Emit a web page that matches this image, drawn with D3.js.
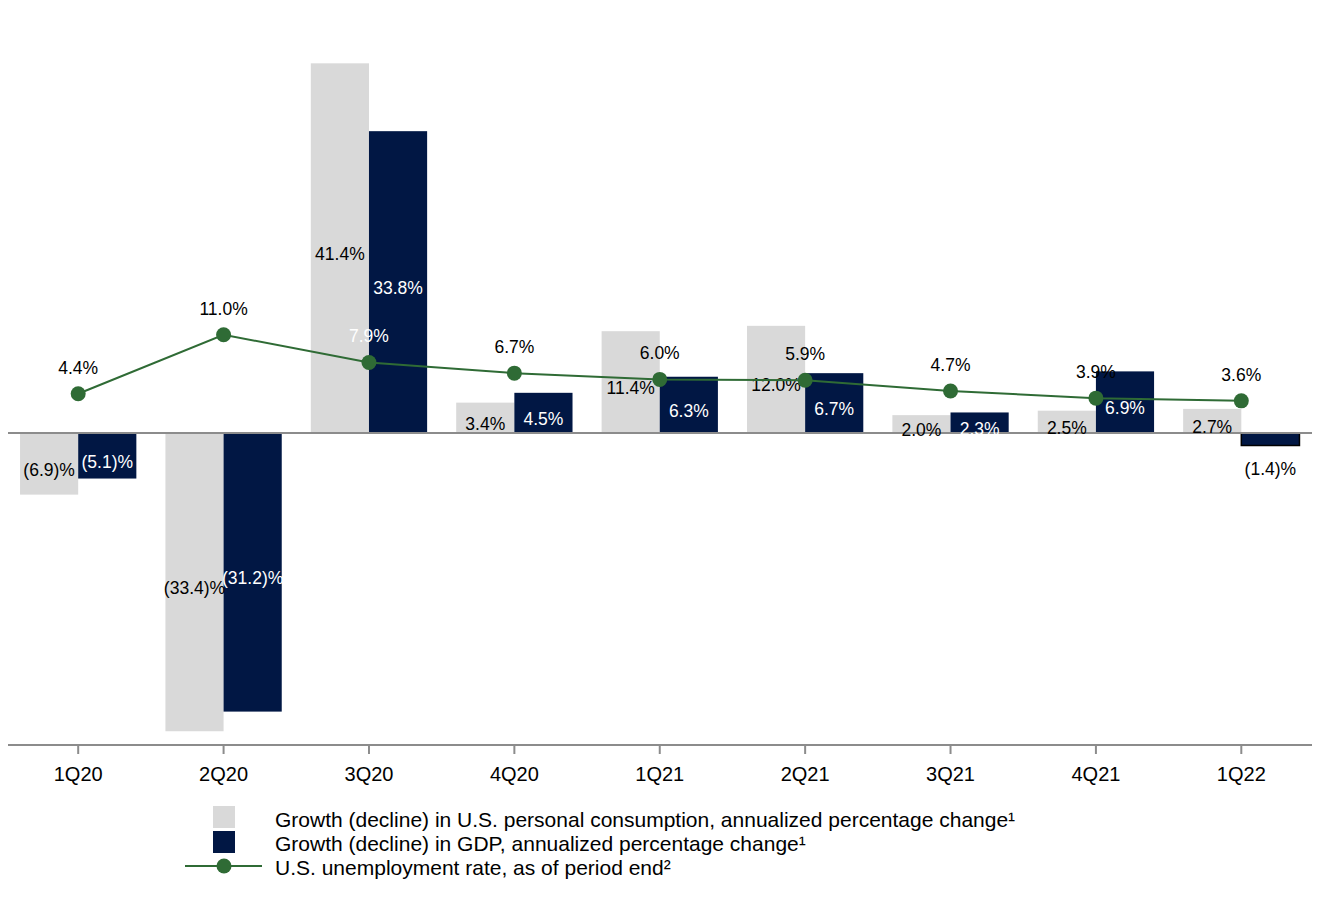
<!DOCTYPE html>
<html><head><meta charset="utf-8">
<script src="https://cdn.jsdelivr.net/npm/d3@7"></script>
<style>body{margin:0;background:#fff}svg{display:block;font-family:"Liberation Sans",Arial,sans-serif}</style>
</head><body><svg id="c" width="1320" height="900"></svg>
<script>
const categories = ["1Q20","2Q20","3Q20","4Q20","1Q21","2Q21","3Q21","4Q21","1Q22"];
const consumption = [-6.9,-33.4,41.4,3.4,11.4,12.0,2.0,2.5,2.7];
const gdp = [-5.1,-31.2,33.8,4.5,6.3,6.7,2.3,6.9,-1.4];
const unemployment = [4.4,11.0,7.9,6.7,6.0,5.9,4.7,3.9,3.6];
const legendLabels = ["Growth (decline) in U.S. personal consumption, annualized percentage change¹","Growth (decline) in GDP, annualized percentage change¹","U.S. unemployment rate, as of period end²"];

const C_GRAY="#d9d9d9", C_NAVY="#011744", C_GREEN="#2f6b35", C_AXIS="#8c8c8c";
const svg=d3.select("#c");
const x=d3.scaleBand().domain(categories).range([5.5,1314]).padding(0);
const bw=x.bandwidth()*0.4;
const y=d3.scaleLinear().domain([-34.94,48.49]).range([745,0]);
const fmt=v=>v<0?`(${Math.abs(v).toFixed(1)})%`:`${v.toFixed(1)}%`;
const cx=d=>x(d)+x.bandwidth()/2;
const LF=17.5;

// bars
const g=svg.append("g");
categories.forEach((c,i)=>{
  const v1=consumption[i], v2=gdp[i];
  g.append("rect").attr("x",cx(c)-bw).attr("width",bw)
    .attr("y",y(Math.max(0,v1))).attr("height",Math.abs(y(v1)-y(0))).attr("fill",C_GRAY);
  const r=g.append("rect").attr("x",cx(c)).attr("width",bw)
    .attr("y",y(Math.max(0,v2))).attr("height",Math.abs(y(v2)-y(0))).attr("fill",C_NAVY);
  if(i===8) r.attr("stroke","#000").attr("stroke-width",1.5);
});

// zero line and axis
svg.append("line").attr("x1",8).attr("x2",1312).attr("y1",y(0)).attr("y2",y(0)).attr("stroke",C_AXIS).attr("stroke-width",2);
const ax=svg.append("g").attr("transform","translate(0,745)").call(d3.axisBottom(x).tickSize(9).tickPadding(13));
ax.select(".domain").remove();
ax.append("line").attr("x1",8).attr("x2",1312).attr("stroke",C_AXIS).attr("stroke-width",2);
ax.selectAll(".tick line").attr("stroke",C_AXIS).attr("stroke-width",2);
ax.selectAll(".tick text").attr("font-size",20).attr("fill","#000").attr("font-family","Liberation Sans, Arial, sans-serif");

// bar labels
categories.forEach((c,i)=>{
  const v1=consumption[i], v2=gdp[i];
  svg.append("text").attr("x",cx(c)-bw/2).attr("y",(y(v1)+y(0))/2+6).attr("text-anchor","middle")
    .attr("dominant-baseline","central").attr("font-size",LF).attr("fill","#000").text(fmt(v1));
  if(i===8){
    svg.append("text").attr("x",cx(c)+bw/2).attr("y",y(v2)+24).attr("text-anchor","middle")
      .attr("dominant-baseline","central").attr("font-size",LF).attr("fill","#000").text(fmt(v2));
  } else {
    svg.append("text").attr("x",cx(c)+bw/2).attr("y",(y(v2)+y(0))/2+6).attr("text-anchor","middle")
      .attr("dominant-baseline","central").attr("font-size",LF).attr("fill","#fff").text(fmt(v2));
  }
});

// line
const line=d3.line().x((d,i)=>cx(categories[i])).y(d=>y(d));
svg.append("path").datum(unemployment).attr("d",line).attr("fill","none").attr("stroke",C_GREEN).attr("stroke-width",2);
svg.selectAll(".dot").data(unemployment).join("circle").attr("cx",(d,i)=>cx(categories[i])).attr("cy",d=>y(d)).attr("r",7.5).attr("fill",C_GREEN);
svg.selectAll(".ul").data(unemployment).join("text").attr("x",(d,i)=>cx(categories[i])).attr("y",d=>y(d)-26)
  .attr("text-anchor","middle").attr("dominant-baseline","central").attr("font-size",LF)
  .attr("fill",(d,i)=>i===2?"#fff":"#000").text(d=>fmt(d));

// legend
const lg=svg.append("g");
lg.append("rect").attr("x",213).attr("y",806).attr("width",22).attr("height",22).attr("fill",C_GRAY);
lg.append("rect").attr("x",213).attr("y",831).attr("width",22).attr("height",22).attr("fill",C_NAVY);
lg.append("line").attr("x1",185).attr("x2",262).attr("y1",866).attr("y2",866).attr("stroke",C_GREEN).attr("stroke-width",2);
lg.append("circle").attr("cx",224).attr("cy",866).attr("r",7.5).attr("fill",C_GREEN);
legendLabels.forEach((t,i)=>{
  lg.append("text").attr("x",275).attr("y",819+i*24).attr("dominant-baseline","central").attr("font-size",21).attr("fill","#000").text(t);
});
</script></body></html>
